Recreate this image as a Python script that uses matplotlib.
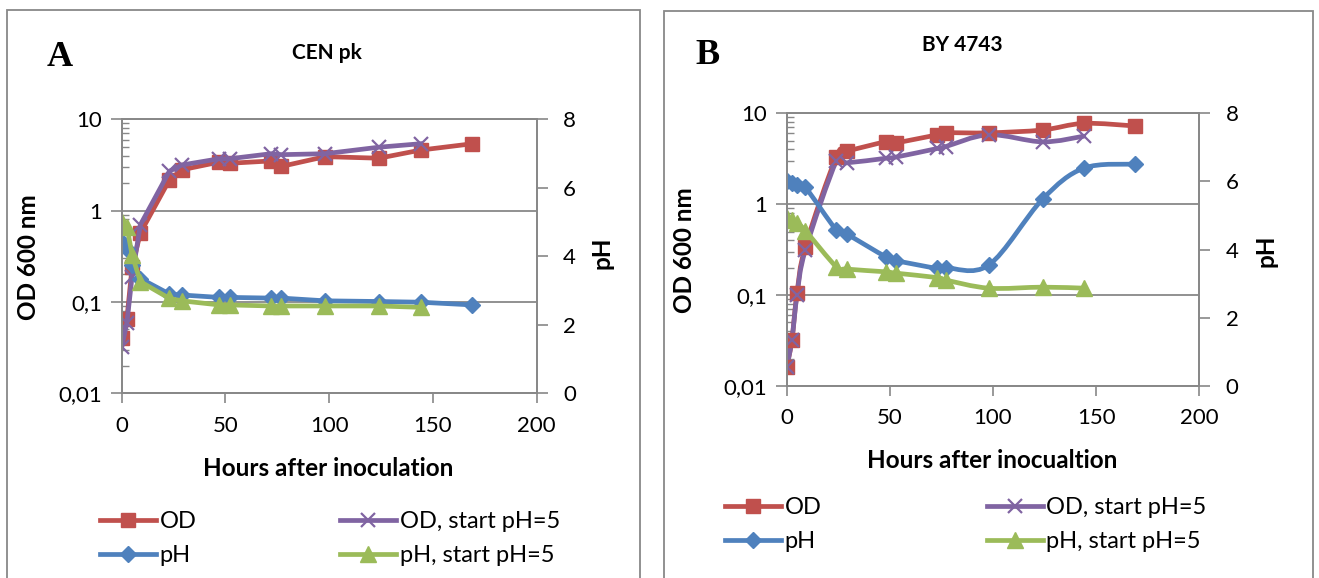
import numpy as np
import matplotlib
matplotlib.use("Agg")
import matplotlib.pyplot as plt
from matplotlib.path import Path
from matplotlib.patches import PathPatch, Rectangle
from matplotlib.lines import Line2D
from matplotlib.ticker import FixedLocator, LogLocator, NullFormatter

# --- CEN pk ---
hours_a = [0, 2.5, 5, 9, 23, 29, 47, 52, 72, 77, 98, 124, 144, 169]
od_a = [0.04, 0.065, 0.24, 0.57, 2.17, 2.8, 3.4, 3.3, 3.5, 3.05, 3.9, 3.75, 4.6, 5.4]
hours_a5 = [0, 2.5, 5, 9, 23, 29, 47, 52, 72, 77, 98, 124, 144]
od5_a = [0.032, 0.059, 0.19, 0.70, 2.7, 3.16, 3.7, 3.7, 4.2, 4.1, 4.2, 4.95, 5.4]
ph_a = [4.43, 4.2, 3.75, 3.35, 2.9, 2.87, 2.8, 2.8, 2.78, 2.78, 2.7, 2.68, 2.66, 2.58]
ph5_a = [5.0, 4.87, 4.04, 3.26, 2.77, 2.7, 2.58, 2.58, 2.55, 2.55, 2.55, 2.55, 2.51]

# --- BY 4743 ---
hours_b = [0, 2.5, 5, 9, 24, 29, 48, 53, 73, 77, 98, 124, 144, 169]
od_b = [0.016, 0.032, 0.105, 0.34, 3.3, 3.8, 4.85, 4.75, 5.8, 6.1, 6.1, 6.55, 7.75, 7.25]
hours_b5 = [0, 2.5, 5, 9, 24, 29, 48, 53, 73, 77, 98, 124, 144]
od5_b = [0.016, 0.032, 0.10, 0.31, 2.95, 2.85, 3.2, 3.3, 4.1, 4.3, 5.8, 4.85, 5.6]
ph_b = [6.02, 5.95, 5.9, 5.83, 4.58, 4.46, 3.79, 3.68, 3.45, 3.47, 3.55, 5.48, 6.39, 6.51]
ph5_b = [4.92, 4.87, 4.77, 4.56, 3.5, 3.43, 3.35, 3.31, 3.18, 3.11, 2.87, 2.9, 2.87]

od_ticks = [0.01, 0.1, 1, 10]
od_tick_labels = ["0,01", "0,1", "1", "10"]
ph_ticks = [0, 2, 4, 6, 8]
hour_ticks = [0, 50, 100, 150, 200]

labels = ["OD", "pH", "OD, start pH=5", "pH, start pH=5"]

RED, PURPLE, BLUE, GREEN = "#C0504D", "#8064A2", "#4F81BD", "#9BBB59"
GRAY = "#888888"
FONT = ["Lato", "DejaVu Sans"]
TICK_FS, LEG_FS, LAB_FS = 16, 17, 17.5

W, H = 1319, 578
plt.rcParams["font.family"] = FONT

fig = plt.figure(figsize=(W / 100, H / 100), dpi=100)


def fx(px):
    return px / W


def fy(py):
    return 1 - py / H


def smooth_path(x, y, logy=False):
    # Catmull-Rom style bezier, like the "smoothed line" option in spreadsheets
    y = np.log10(y) if logy else np.asarray(y, float)
    p = np.column_stack([np.asarray(x, float), y])
    n = len(p)
    verts = [p[0]]
    codes = [Path.MOVETO]
    for i in range(n - 1):
        p0 = p[i - 1] if i > 0 else p[i]
        p3 = p[i + 2] if i + 2 < n else p[i + 1]
        c1 = p[i] + (p[i + 1] - p0) / 6
        c2 = p[i + 1] - (p3 - p[i]) / 6
        verts += [c1, c2, p[i + 1]]
        codes += [Path.CURVE4] * 3
    verts = np.array(verts)
    if logy:
        verts[:, 1] = 10 ** verts[:, 1]
    return Path(verts, codes)


STYLE = {
    "OD": dict(color=RED, marker="s", ms=9.5, mew=1),
    "OD, start pH=5": dict(color=PURPLE, marker="x", ms=9.5, mew=1.6),
    "pH": dict(color=BLUE, marker="D", ms=8.5, mew=1),
    "pH, start pH=5": dict(color=GREEN, marker="^", ms=11, mew=1),
}
LW = 3.4


def draw_series(ax, x, y, name, smooth, logy):
    st = STYLE[name]
    if smooth:
        ax.add_patch(PathPatch(smooth_path(x, y, logy), fill=False, edgecolor=st["color"],
                               lw=LW, capstyle="round", joinstyle="round"))
        ax.plot(x, y, ls="none", marker=st["marker"], ms=st["ms"], color=st["color"],
                mew=st["mew"])
    else:
        ax.plot(x, y, ls="-", lw=LW, marker=st["marker"], ms=st["ms"], color=st["color"],
                mew=st["mew"], solid_joinstyle="round")


def make_panel(box, series, smooth, title, letter, xlabel, texts):
    left, top, right, bottom = box
    ax = fig.add_axes([fx(left), fy(bottom), fx(right - left), (bottom - top) / H])
    ax.set_yscale("log")
    ax.set_ylim(0.01, 10)
    ax.set_xlim(0, 200)
    ax.yaxis.set_major_locator(FixedLocator(od_ticks))
    ax.set_yticklabels(od_tick_labels)
    ax.yaxis.set_minor_locator(LogLocator(base=10, subs=np.arange(2, 10)))
    ax.yaxis.set_minor_formatter(NullFormatter())
    ax.set_xticks(hour_ticks)
    ax.grid(axis="y", which="major", color=GRAY, lw=1.3)
    ax.set_axisbelow(True)
    ax.tick_params(axis="y", which="major", direction="out", length=8, width=1.2, color=GRAY,
                   labelsize=TICK_FS, pad=6)
    ax.tick_params(axis="y", which="minor", direction="in", length=5, width=1, color=GRAY)
    ax.tick_params(axis="x", direction="out", length=7, width=1.2, color=GRAY,
                   labelsize=TICK_FS, pad=9)

    ax2 = ax.twinx()
    ax2.set_ylim(0, 8)
    ax2.set_yticks(ph_ticks)
    ax2.tick_params(axis="y", direction="out", length=8, width=1.2, color=GRAY,
                    labelsize=TICK_FS, pad=11)
    for a in (ax, ax2):
        for s in a.spines.values():
            s.set_color(GRAY)
            s.set_linewidth(1.3)

    x_od, y_od, x_od5, y_od5, x_ph, y_ph, x_ph5, y_ph5 = series
    draw_series(ax, x_od, y_od, "OD", smooth, True)
    draw_series(ax, x_od5, y_od5, "OD, start pH=5", smooth, True)
    draw_series(ax2, x_ph, y_ph, "pH", smooth, False)
    draw_series(ax2, x_ph5, y_ph5, "pH, start pH=5", smooth, False)

    (lx, ly), (tx, ty), (olx, oly), (plx, ply), (xlx, xly), (legx, legy, colsp) = texts
    fig.text(fx(lx), fy(ly), letter, fontsize=26, fontweight="bold",
             family=["Liberation Serif", "DejaVu Serif"], ha="center", va="center")
    fig.text(fx(tx), fy(ty), title, fontsize=15, fontweight="bold", ha="center", va="center")
    fig.text(fx(olx), fy(oly), "OD 600 nm", fontsize=LAB_FS, fontweight="bold", rotation=90,
             ha="center", va="center")
    fig.text(fx(plx), fy(ply), "pH", fontsize=LAB_FS, fontweight="bold", rotation=90,
             ha="center", va="center")
    fig.text(fx(xlx), fy(xly), xlabel, fontsize=LAB_FS, fontweight="bold",
             ha="center", va="center")

    handles = [Line2D([], [], lw=LW, marker=STYLE[n]["marker"], ms=STYLE[n]["ms"],
                      mew=STYLE[n]["mew"], color=STYLE[n]["color"]) for n in labels]
    fig.legend(handles, labels, loc="upper left", bbox_to_anchor=(fx(legx), fy(legy)),
               ncol=2, frameon=False, fontsize=LEG_FS, handlelength=2.37, handletextpad=0.15,
               columnspacing=colsp, labelspacing=0.55, borderpad=0, borderaxespad=0)
    return ax, ax2


make_panel((121.7, 119.3, 536.7, 393.3),
           (hours_a, od_a, hours_a5, od5_a, hours_a, ph_a, hours_a5, ph5_a),
           False, "CEN pk", "A", "Hours after inoculation",
           ((60, 57), (327, 53), (28, 257), (602, 253), (328, 468), (100, 511, 6.1)))

make_panel((786.7, 113.3, 1199.3, 386),
           (hours_b, od_b, hours_b5, od5_b, hours_b, ph_b, hours_b5, ph5_b),
           True, "BY 4743", "B", "Hours after inocualtion",
           ((708, 56), (962, 45), (685, 250), (1266, 251), (992, 461), (725, 497, 7.0)))

# panel frames
for x0, y0, x1 in [(6.5, 10, 639.5), (663.5, 11, 1312.5)]:
    fig.add_artist(Rectangle((fx(x0), fy(H + 5)), fx(x1 - x0), (H + 5 - y0) / H,
                             transform=fig.transFigure, fill=False, edgecolor=GRAY, lw=1.3))

fig.savefig("out.png", dpi=100)
